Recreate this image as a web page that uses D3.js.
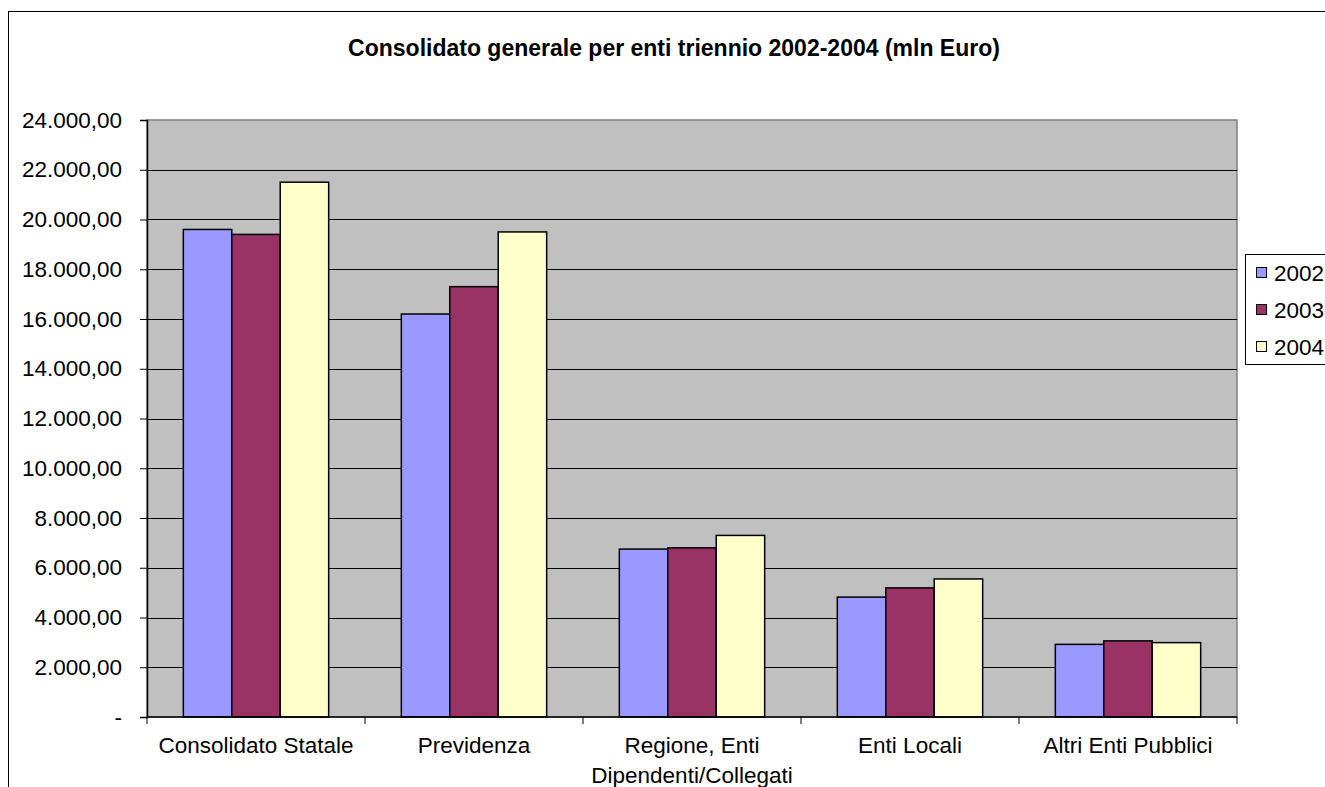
<!DOCTYPE html>
<html>
<head>
<meta charset="utf-8">
<script src="https://cdn.jsdelivr.net/npm/d3@7"></script>
<style>
  body { margin: 0; background: #fff; }
  text { font-family: "Liberation Sans", Arial, sans-serif; }
</style>
</head>
<body>
<script>
var width = 1325, height = 787;

var categories = ["Consolidato Statale", "Previdenza", "Regione, Enti|Dipendenti/Collegati", "Enti Locali", "Altri Enti Pubblici"];
var years = ["2002", "2003", "2004"];
var v2002 = [19600, 16200, 6750, 4820, 2920];
var v2003 = [19400, 17300, 6800, 5190, 3060];
var v2004 = [21500, 19500, 7300, 5550, 2990];
var yTicks = [0, 2000, 4000, 6000, 8000, 10000, 12000, 14000, 16000, 18000, 20000, 22000, 24000];
var colors = ["#9999FF", "#993366", "#FFFFCC"];

var series = [v2002, v2003, v2004];

var plot = { left: 147, right: 1237, top: 120, bottom: 717 };
var fs = "22.5px";

var svg = d3.select("body").append("svg")
    .attr("width", width)
    .attr("height", height);

// outer frame
svg.append("rect")
    .attr("x", 8.5).attr("y", 11.5)
    .attr("width", 1400).attr("height", 900)
    .attr("fill", "#fff")
    .attr("stroke", "#000")
    .attr("stroke-width", 1);

svg.append("text")
    .attr("x", 674).attr("y", 56)
    .attr("text-anchor", "middle")
    .style("font-size", "23px")
    .style("font-weight", "bold")
    .text("Consolidato generale per enti triennio 2002-2004 (mln Euro)");

var x = d3.scaleBand()
    .domain(categories)
    .range([plot.left, plot.right])
    .paddingInner(0).paddingOuter(0);

var y = d3.scaleLinear()
    .domain([0, 24000])
    .range([plot.bottom, plot.top]);

var bw = x.bandwidth() / (years.length + 1.5);
var xs = d3.scaleBand()
    .domain(years)
    .range([bw * 0.75, bw * 0.75 + bw * 3]);

// plot background
svg.append("rect")
    .attr("x", plot.left).attr("y", plot.top)
    .attr("width", plot.right - plot.left)
    .attr("height", plot.bottom - plot.top)
    .attr("fill", "#C0C0C0")
    .attr("stroke", "#808080")
    .attr("stroke-width", 1.5);

// gridlines
svg.append("g")
    .selectAll("line")
    .data(yTicks.filter(function (d) { return d > 0 && d < 24000; }))
    .enter()
    .append("line")
    .attr("x1", plot.left).attr("x2", plot.right)
    .attr("y1", function (d) { return Math.round(y(d)) + 0.5; })
    .attr("y2", function (d) { return Math.round(y(d)) + 0.5; })
    .attr("stroke", "#000")
    .attr("stroke-width", 1);

// bars
var groups = svg.append("g")
    .selectAll("g")
    .data(categories)
    .enter()
    .append("g")
    .attr("transform", function (d) { return "translate(" + x(d) + ",0)"; });

groups.selectAll("rect")
    .data(function (d, i) {
        return years.map(function (yr, k) { return { year: yr, value: series[k][i], k: k }; });
    })
    .enter()
    .append("rect")
    .attr("x", function (d) { return xs(d.year); })
    .attr("width", xs.bandwidth())
    .attr("y", function (d) { return y(d.value); })
    .attr("height", function (d) { return y(0) - y(d.value); })
    .attr("fill", function (d) { return colors[d.k]; })
    .attr("stroke", "#000")
    .attr("stroke-width", 1.5);

// y axis
var yAxis = d3.axisLeft(y)
    .tickValues(yTicks)
    .tickSize(7)
    .tickPadding(18)
    .tickFormat(function (d) {
        if (d === 0) return "-";
        return d3.format(",.2f")(d).replace(/,/g, "#").replace(".", ",").replace(/#/g, ".");
    });

var ya = svg.append("g")
    .attr("transform", "translate(" + plot.left + ",0)")
    .call(yAxis);
ya.select(".domain").attr("stroke", "#000").attr("stroke-width", 1.5);
ya.selectAll(".tick line").attr("stroke", "#000");
ya.selectAll("text")
    .style("font-size", fs)
    .attr("fill", "#000")
    .attr("font-family", "Liberation Sans, Arial, sans-serif");

// x axis
svg.append("line")
    .attr("x1", plot.left).attr("x2", plot.right)
    .attr("y1", plot.bottom).attr("y2", plot.bottom)
    .attr("stroke", "#000").attr("stroke-width", 1.5);

var bounds = categories.map(function (c) { return x(c); }).concat([plot.right]);
svg.append("g")
    .selectAll("line")
    .data(bounds)
    .enter()
    .append("line")
    .attr("x1", function (d) { return d; }).attr("x2", function (d) { return d; })
    .attr("y1", plot.bottom).attr("y2", plot.bottom + 7)
    .attr("stroke", "#000");

var lbl = svg.append("g")
    .selectAll("text")
    .data(categories)
    .enter()
    .append("text")
    .attr("x", function (d) { return x(d) + x.bandwidth() / 2; })
    .attr("y", 753)
    .attr("text-anchor", "middle")
    .style("font-size", fs);

lbl.selectAll("tspan")
    .data(function (d) { return d.split("|"); })
    .enter()
    .append("tspan")
    .attr("x", function () { return d3.select(this.parentNode).attr("x"); })
    .attr("dy", function (d, i) { return i === 0 ? 0 : 30; })
    .text(function (d) { return d; });

// legend
var legend = svg.append("g");
legend.append("rect")
    .attr("x", 1245.5).attr("y", 254.5)
    .attr("width", 120).attr("height", 110)
    .attr("fill", "#fff")
    .attr("stroke", "#000");

var items = legend.selectAll("g.item")
    .data(years)
    .enter()
    .append("g")
    .attr("class", "item")
    .attr("transform", function (d, i) { return "translate(0," + (273 + i * 37) + ")"; });

items.append("rect")
    .attr("x", 1256.5).attr("y", -5.5)
    .attr("width", 10).attr("height", 10)
    .attr("fill", function (d, i) { return colors[i]; })
    .attr("stroke", "#000");

items.append("text")
    .attr("x", 1274)
    .attr("y", 8)
    .style("font-size", fs)
    .text(function (d) { return d; });
</script>
</body>
</html>
